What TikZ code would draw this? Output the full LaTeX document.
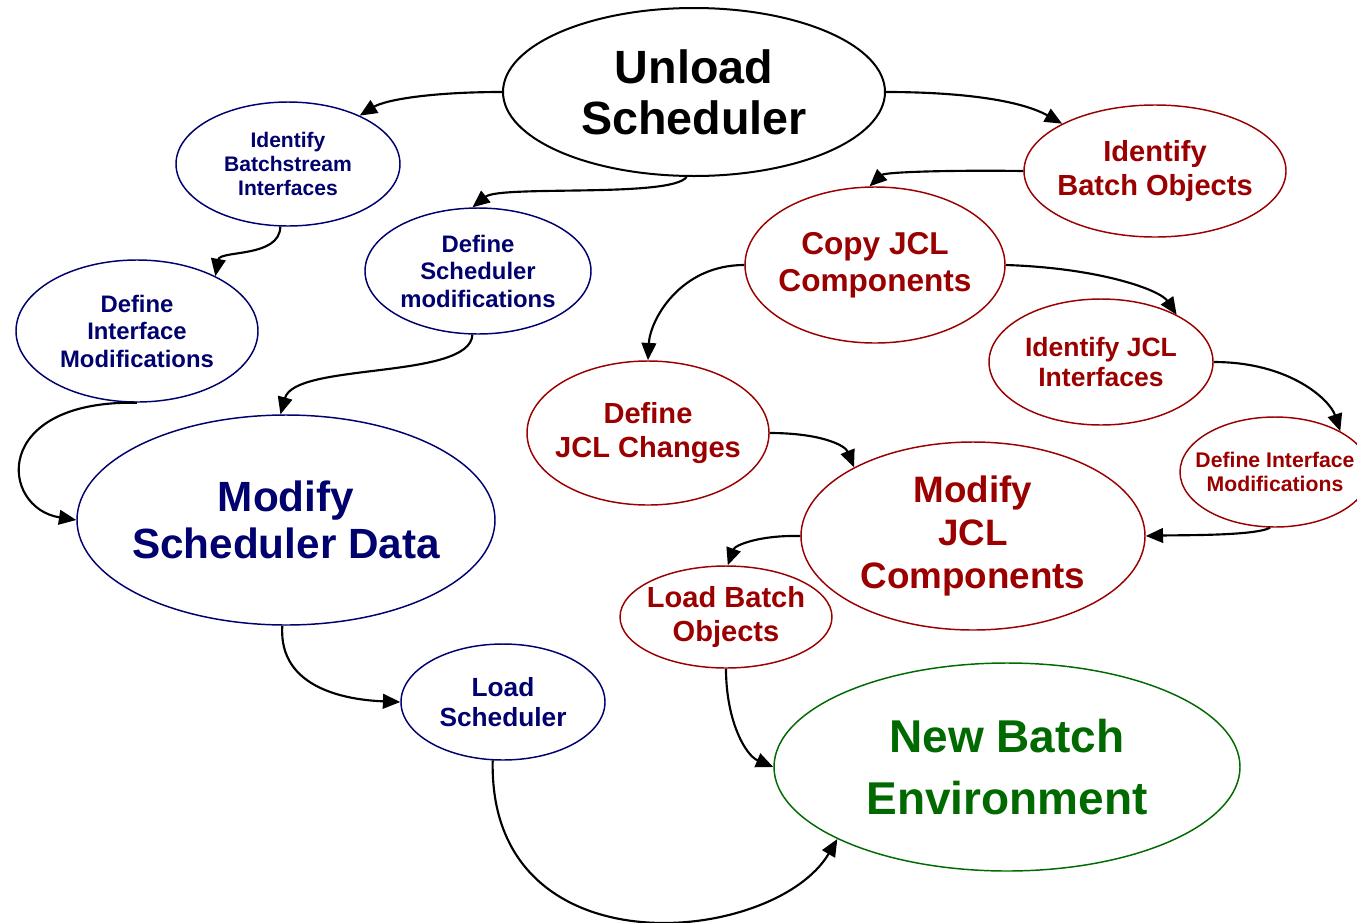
\documentclass[tikz,border=0pt]{standalone}
\usepackage{fontspec}
\setmainfont{Liberation Sans}
\usepackage{tikz}
\usetikzlibrary{shapes.geometric,arrows.meta}

\definecolor{navyc}{RGB}{0,0,110}
\definecolor{redc}{RGB}{155,0,0}
\definecolor{greenc}{RGB}{0,105,0}

\newcommand{\bubfont}[2]{\fontsize{#1}{#2}\selectfont\bfseries}

\begin{document}
\begin{tikzpicture}[x=0.75pt,y=0.75pt,yscale=-1,xscale=1,
    bub/.style={ellipse, draw, line width=1.1pt, inner sep=0pt, fill=white},
    bluebub/.style={bub, draw=navyc},
    redbub/.style={bub, draw=redc},
    greenbub/.style={bub, draw=greenc},
    bluetxt/.style={text=navyc, align=center, inner sep=0pt},
    redtxt/.style={text=redc, align=center, inner sep=0pt},
    greentxt/.style={text=greenc, align=center, inner sep=0pt},
    arr/.style={line width=1.6pt, -{Triangle[length=13pt,width=11pt]}}]
        \useasboundingbox (0,0) rectangle (1357,922);
        \clip (0,0) rectangle (1357,922);

        %Shape: Ellipse [Unload Scheduler]
        \node [bub, line width=1.5pt, minimum width=286.5pt, minimum height=126pt, label={[align=center, inner sep=0pt, font=\bubfont{35}{38}]center:{Unload\\Scheduler}}] (us) at (694,92) {};
        %Shape: Ellipse [left branch]
        \node [bluebub, minimum width=168pt, minimum height=93pt, label={[bluetxt, font=\bubfont{15.8}{18}]center:{Identify\\Batchstream\\Interfaces}}] (ibi) at (288,164) {};
        \node [bluebub, minimum width=169.5pt, minimum height=94.5pt, label={[bluetxt, font=\bubfont{17.9}{20.6}]center:{Define\\Scheduler\\modifications}}] (dsm) at (478,271) {};
        \node [bluebub, minimum width=181.5pt, minimum height=106.5pt, label={[bluetxt, font=\bubfont{17.9}{20.6}]center:{Define\\Interface\\Modifications}}] (diml) at (137,331) {};
        \node [bluebub, minimum width=313.5pt, minimum height=157.5pt, label={[bluetxt, font=\bubfont{31.7}{35}]center:{Modify\\Scheduler Data}}] (msd) at (286,520) {};
        \node [bluebub, minimum width=153pt, minimum height=87pt, label={[bluetxt, font=\bubfont{19.7}{22.5}]center:{Load\\Scheduler}}] (ls) at (503,702) {};
        %Shape: Ellipse [right branch]
        \node [redbub, minimum width=196.5pt, minimum height=99pt, label={[redtxt, font=\bubfont{21.8}{24.8}]center:{Identify\\Batch Objects}}] (ibo) at (1155,171) {};
        \node [redbub, minimum width=195pt, minimum height=117pt, label={[redtxt, font=\bubfont{23.7}{27.8}]center:{Copy JCL\\Components}}] (cjc) at (875,265) {};
        \node [redbub, minimum width=168pt, minimum height=94.5pt, label={[redtxt, font=\bubfont{19.9}{23.2}]center:{Identify JCL\\Interfaces}}] (iji) at (1101,362) {};
        \node [redbub, minimum width=181.5pt, minimum height=108pt, label={[redtxt, font=\bubfont{21.8}{25.5}]center:{Define\\JCL Changes}}] (djc) at (648,433) {};
        \node [redbub, minimum width=142.5pt, minimum height=82.5pt, label={[redtxt, font=\bubfont{15.9}{18}]center:{Define Interface\\Modifications}}] (dimr) at (1275,472) {};
        \node [redbub, minimum width=258pt, minimum height=141pt, label={[redtxt, font=\bubfont{27.6}{32}]center:{Modify\\JCL\\Components}}] (mjc) at (973,536) {};
        \node [redbub, minimum width=159pt, minimum height=76.5pt, label={[redtxt, font=\bubfont{21.8}{25.5}]center:{Load Batch\\Objects}}] (lbo) at (726,617) {};
        %Shape: Ellipse [target]
        \node [greenbub, minimum width=349.5pt, minimum height=156pt, label={[greentxt, font=\bubfont{34.5}{46}]center:{New Batch\\Environment}}] (nbe) at (1007,767) {};

        %Curve Lines [left branch]
        \draw [arr] (us.west) .. controls (430,92) and (385,100) .. (ibi.34) ;
        \draw [arr] (us.265) .. controls (672,198) and (500,185) .. (dsm.95) ;
        \draw [arr] (ibi.263) .. controls (280,258) and (220,250) .. (diml.35) ;
        \draw [arr] (dsm.265) .. controls (470,380) and (295,362) .. (msd.93) ;
        \draw [arr] (diml.south) .. controls (-10,400) and (0,508) .. (msd.west) ;
        \draw [arr] (msd.268) .. controls (278,690) and (350,700) .. (ls.west) ;
        \draw [arr] (ls.260) .. controls (488,975) and (775,945) .. (nbe.203) ;
        %Curve Lines [right branch]
        \draw [arr] (us.east) .. controls (960,92) and (1020,100) .. (ibo.153) ;
        \draw [arr] (ibo.west) .. controls (950,170) and (885,172) .. (cjc.94) ;
        \draw [arr] (cjc.west) .. controls (680,265) and (650,320) .. (djc.north) ;
        \draw [arr] (cjc.east) .. controls (1100,268) and (1160,290) .. (iji.32) ;
        \draw [arr] (iji.east) .. controls (1290,362) and (1330,400) .. (dimr.32) ;
        \draw [arr] (dimr.265) .. controls (1255,536) and (1180,535) .. (mjc.east) ;
        \draw [arr] (djc.east) .. controls (820,433) and (845,445) .. (mjc.150) ;
        \draw [arr] (mjc.west) .. controls (760,535) and (735,545) .. (lbo.88) ;
        \draw [arr] (lbo.south) .. controls (726,720) and (745,755) .. (nbe.west) ;

\end{tikzpicture}
\end{document}
